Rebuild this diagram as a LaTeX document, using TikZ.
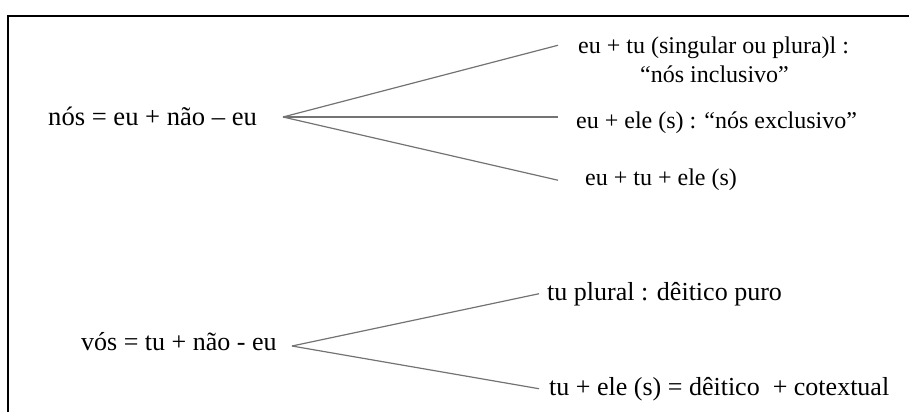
\documentclass[tikz,border=0pt]{standalone}
\usepackage{fontspec}
\setmainfont{Liberation Serif}
\begin{document}
\begin{tikzpicture}[x=1pt,y=-1pt,
  lbl/.style={anchor=base west,inner sep=0pt,font=\fontsize{26}{30}\selectfont},
  slbl/.style={lbl,font=\fontsize{24}{28}\selectfont},
  fan/.style={draw=black!55,line width=1.2pt},
  frame/.style={draw=black,line width=2pt}]
\useasboundingbox (0,0) rectangle (909,412);
\draw[frame] (8.3,412) -- (8.3,16) -- (909,16);
% upper group
\node[lbl,font=\fontsize{26.6}{30}\selectfont] (nos) at (48,125) {nós = eu + não – eu};
\coordinate (apexA) at (283,117);
\node[slbl] (t1a) at (578,53) {eu + tu (singular ou plura)l :};
\node[slbl] (t1b) at (640,82) {“nós inclusivo”};
\node[slbl] (t2) at (576,128) {eu + ele (s) : “nós exclusivo”};
\node[slbl] (t3) at (585,185) {eu + tu + ele (s)};
\draw[fan] (apexA) -- ([xshift=-20pt,yshift=2pt]t1a.west);
\draw[fan] (apexA) -- ([xshift=-18pt]t2.west |- apexA);
\draw[fan] (apexA) -- ([xshift=-27pt,yshift=-1pt]t3.west);
% lower group
\node[lbl] (vos) at (81,350) {vós = tu + não - eu};
\coordinate (apexB) at (292,346);
\node[lbl] (u1) at (547,300) {tu plural : dêitico puro};
\node[lbl] (u2) at (549,395) {tu + ele (s) = dêitico \ + cotextual};
\draw[fan] (apexB) -- ([xshift=-8pt]u1.west);
\draw[fan] (apexB) -- ([xshift=-10pt]u2.west);
\end{tikzpicture}
\end{document}
